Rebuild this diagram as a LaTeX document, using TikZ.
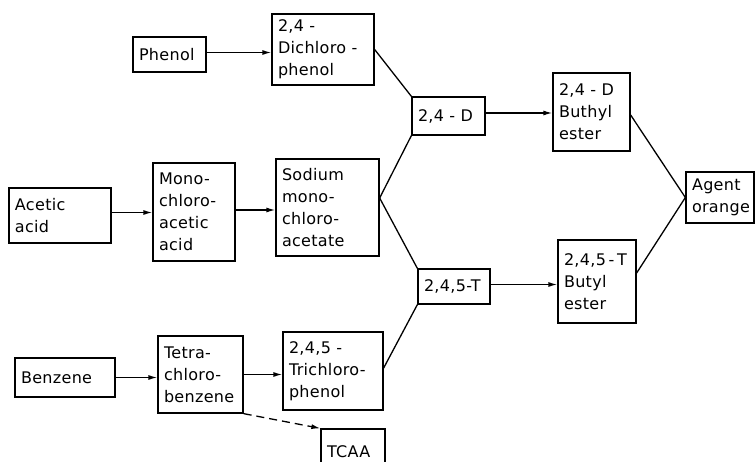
\documentclass[tikz,border=0pt]{standalone}
\usepackage{fontspec}
\setmainfont{DejaVu Sans}[LetterSpace=2]
\usetikzlibrary{arrows.meta}
\begin{document}
\begin{tikzpicture}[x=1pt,y=-1pt,
  bx/.style n args={2}{draw, line width=1.3pt, inner xsep=6pt, inner ysep=2pt,
     align=left, text width=#1, minimum height=#2,
     font=\fontsize{16}{22}\selectfont},
  arr/.style={line width=1.3pt, -{Latex[length=9pt,width=5pt]}},
  ln/.style={line width=1.3pt}]
\useasboundingbox (0,0) rectangle (756,462);
\node[bx={61pt}{35pt}] (phenol) at (169.5,54.5) {Phenol};
\node[bx={90pt}{71pt}] (dichl) at (323,49.5) {2,4 -\\Dichloro -\\phenol};
\node[bx={61pt}{38pt}] (d24) at (448.5,116) {2,4 - D};
\node[bx={65pt}{78pt}] (buthyl) at (591.5,112) {2,4 - D\\Buthyl\\ester};
\node[bx={56pt}{51pt}] (agent) at (720,197.5) {Agent\\orange};
\node[bx={90pt}{55pt}] (acetic) at (60,215.5) {Acetic\\acid};
\node[bx={70pt}{98pt}] (mono) at (194,212) {Mono-\\chloro-\\acetic\\acid};
\node[bx={91pt}{97pt}] (sodium) at (327.5,207.5) {Sodium\\mono-\\chloro-\\acetate};
\node[bx={60pt}{35pt}] (t245) at (454,286.5) {2,4,5-T};
\node[bx={66pt}{83pt}] (butyl) at (597,281.5) {\mbox{2,4,5\,-\,T}\\Butyl\\ester};
\node[bx={88pt}{39pt}] (benzene) at (65,377.5) {Benzene};
\node[bx={73pt}{77pt}] (tetra) at (200.5,374.5) {Tetra-\\chloro-\\benzene};
\node[bx={88pt}{78pt}] (trichl) at (333,371) {2,4,5 -\\Trichloro-\\phenol};
\node[bx={52pt}{46pt}] (tcaa) at (353,452) {TCAA};
% arrows
\draw[arr] ([yshift=2pt]phenol.east) -- ([yshift=2pt]phenol.east -| dichl.west);
\draw[arr] ([yshift=3pt]acetic.east) -- ([yshift=3pt]acetic.east -| mono.west);
\draw[arr] ([yshift=2pt]mono.east) -- ([yshift=2pt]mono.east -| sodium.west);
\draw[arr] (benzene.east) -- (benzene.east -| tetra.west);
\draw[arr] (tetra.east) -- (tetra.east -| trichl.west);
\draw[arr] ([yshift=3pt]d24.east) -- ([yshift=3pt]d24.east -| buthyl.west);
\draw[arr] ([yshift=2pt]t245.east) -- ([yshift=2pt]t245.east -| butyl.west);
\draw[arr, dash pattern=on 8pt off 5pt] (tetra.south east) -- (tcaa.north west);
% lines
\coordinate (sj) at ([yshift=9.5pt]sodium.east);
\coordinate (tj) at ([yshift=3pt]trichl.east);
\coordinate (bj1) at ([yshift=-3pt]buthyl.east);
\coordinate (bj2) at ([yshift=8.5pt]butyl.east);
\draw[ln] (dichl.east) -- (d24.north west);
\draw[ln] (sj) -- (d24.south west);
\draw[ln] (sj) -- (t245.north west);
\draw[ln] (tj) -- (t245.south west);
\draw[ln] (bj1) -- (agent.west);
\draw[ln] (bj2) -- (agent.west);
\end{tikzpicture}
\end{document}
